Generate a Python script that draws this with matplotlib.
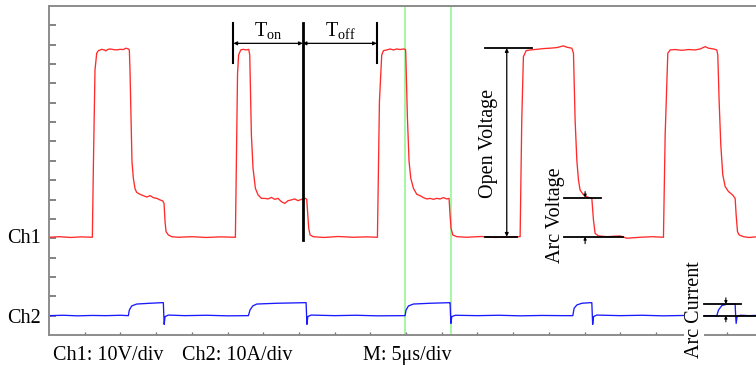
import matplotlib
matplotlib.use("Agg")
import matplotlib.pyplot as plt
import numpy as np

plt.rcParams['font.family'] = ['Liberation Serif', 'DejaVu Serif']
plt.rcParams['mathtext.fontset'] = 'custom'
plt.rcParams['mathtext.rm'] = 'Liberation Serif'
plt.rcParams['mathtext.it'] = 'Liberation Serif:italic'

# ---- data (time in microseconds, Ch1 in volts, Ch2 in amps) ----
ch1_t = [0, 1.5, 3.0, 4.5, 6.07,
         6.21, 6.44, 6.68, 6.91, 7.38, 7.75, 7.94, 8.22, 8.54, 9.01, 9.48, 9.94, 10.41, 10.78, 11.11, 11.25,
         11.34, 11.48, 11.62, 11.81, 12.05, 12.28, 12.75, 13.21, 13.68, 14.15, 14.61, 15.08, 15.55, 15.92, 16.11,
         16.25, 16.39, 16.71, 17.18, 18.11, 20.0, 22.0, 24.0,
         26.10, 26.24, 26.40, 26.55, 26.85, 27.17, 27.64, 27.97, 28.11, 28.34, 28.57, 28.90, 29.27, 29.74,
         30.21, 30.67, 31.14, 31.61, 32.07, 32.54, 33.01, 33.47, 33.94, 34.41, 34.87, 35.34, 35.90, 36.09,
         36.18, 36.37, 36.56, 36.98, 38.5, 40.5, 42.5, 44.5,
         45.99, 46.27, 46.59, 46.83, 47.29, 47.76, 48.23, 48.69, 49.16, 49.63, 49.91, 49.95, 50.19, 50.42,
         50.66, 51.03, 51.50, 51.96, 52.43, 52.90, 53.36, 53.83, 54.30, 54.76, 55.23, 55.70, 56.02, 56.16,
         56.30, 56.54, 57.10, 58.5, 60.5, 62.5, 64.5,
         65.97, 66.20, 66.43, 66.81, 67.37, 68.30, 69.24, 70.17, 71.10, 72.04, 72.50, 73.21, 73.44, 73.67,
         73.91, 74.14, 74.37, 74.84, 75.54, 76.01, 76.24, 76.47, 76.94, 78.11, 79.97, 80.91, 82.78, 84.5,
         86.04, 86.28, 86.65, 86.98, 87.68, 88.61, 89.54, 90.48, 91.18, 91.88, 92.35, 93.05, 93.51, 93.65,
         93.84, 94.07, 94.35, 94.68, 95.15, 95.71, 96.08, 96.22, 96.41, 96.64, 97.25, 98.0, 99.0]
ch1_v = [0.5, 0.8, 0.4, 0.7, 0.5,
         36.1, 86.9, 95.6, 96.9, 97.6, 97.3, 96.8, 97.5, 97.8, 97.5, 97.3, 97.6, 97.5, 98.2, 97.8, 97.3,
         86.9, 62.0, 39.6, 31.0, 25.5, 23.7, 22.7, 22.0, 21.3, 22.0, 21.0, 20.6, 19.8, 19.3, 18.0,
         8.6, 3.4, 1.7, 0.8, 0.5, 0.8, 0.4, 0.7,
         0.5, 40.0, 85.0, 94.7, 97.3, 97.6, 97.3, 97.6, 94.7, 53.4, 36.1, 25.8, 22.4, 20.6,
         20.6, 20.3, 21.1, 20.1, 20.6, 18.9, 18.0, 19.4, 19.8, 20.3, 19.4, 20.1, 20.6, 20.1,
         15.5, 5.1, 1.7, 0.8, 0.4, 0.9, 0.5, 0.7,
         0.5, 70.6, 94.7, 96.9, 97.3, 97.8, 97.3, 97.8, 97.5, 97.8, 97.6, 96.4, 62.0, 39.6,
         31.0, 25.8, 22.7, 22.0, 21.0, 20.3, 20.6, 20.1, 20.6, 20.3, 21.0, 20.3, 20.6, 12.0,
         5.1, 1.7, 0.8, 0.5, 0.9, 0.4, 0.7,
         0.8, 61.1, 93.8, 96.9, 97.3, 97.6, 98.0, 98.2, 98.5, 99.4, 98.7, 98.2, 95.6, 61.1,
         40.4, 30.1, 24.9, 22.4, 21.1, 20.6, 9.4, 2.5, 1.2, 0.8, 1.2, 0.0, 0.5, 0.8,
         0.5, 53.4, 95.6, 97.3, 97.5, 97.1, 97.5, 97.3, 97.8, 99.0, 98.2, 97.8, 97.3, 94.7,
         70.6, 48.2, 32.7, 26.7, 24.1, 22.4, 20.6, 12.0, 3.4, 1.7, 0.8, 0.4, 0.7]

ch2_t = [0, 2, 4, 6, 8, 10,
         11.11, 11.25, 11.58, 12.28, 14.15, 15.78, 16.01, 16.08, 16.13, 16.25, 16.71, 19, 22, 25,
         27.92, 28.15, 28.53, 29.09, 31.89, 35.86, 36.00, 36.07, 36.12, 36.24, 36.70, 40, 43, 46,
         49.86, 50.00, 50.33, 51.03, 53.36, 56.07, 56.16, 56.23, 56.28, 56.40, 56.90, 60, 63, 66, 69, 72,
         73.35, 73.53, 73.91, 74.61, 75.77, 76.01, 76.08, 76.13, 76.25, 76.70, 80, 83, 86, 89, 92,
         93.51, 93.75, 94.21, 94.91, 96.08, 96.15, 96.22, 96.35, 96.80, 98, 99]
ch2_i = [0.0, 0.2, -0.1, 0.1, 0.0, 0.2,
         0.0, 2.9, 5.0, 6.0, 6.4, 6.7, 6.7, 0.0, -4.5, -0.5, 0.3, 0.0, 0.2, -0.1,
         0.0, 2.9, 5.0, 6.0, 6.4, 6.7, 6.7, 0.0, -4.5, -0.5, 0.3, 0.0, 0.2, -0.1,
         0.0, 2.9, 5.0, 6.0, 6.4, 6.7, 6.7, 0.0, -4.0, -0.5, 0.2, 0.0, 0.2, -0.1, 0.1, 0.0,
         0.0, 3.8, 5.5, 6.4, 6.7, 6.7, 0.0, -4.5, -0.5, 0.3, 0.0, 0.2, -0.1, 0.1, 0.0,
         0.0, 2.9, 5.2, 5.9, 6.0, 0.0, -4.0, -0.5, 0.2, 0.0, 0.1]

ch1_offset_div = 5      # Ch1 ground marker position (div)
ch2_offset_div = 1      # Ch2 ground marker position (div)
ch1_scale = 10          # V/div
ch2_scale = 10          # A/div
cursor_t = [49.86, 56.30]   # green cursors (us)

# ---- figure ----
fig = plt.figure(figsize=(7.56, 3.67), dpi=100)
ax = fig.add_axes([49/756, 1-335/367, 1-49/756, (335-6)/367])
ax.set_xlim(0, 99.0)
ax.set_ylim(0, 17.0)

gray = '#8c8c8c'
for s in ['left', 'top', 'bottom']:
    ax.spines[s].set_color(gray)
    ax.spines[s].set_linewidth(1.4)
ax.spines['right'].set_visible(False)

ax.set_yticks(np.arange(1, 17))
ax.set_xticks(np.arange(5, 99, 5))
ax.tick_params(axis='y', direction='in', length=5.2, width=1.2, color='#6e6e6e', labelleft=False)
ax.tick_params(axis='x', direction='in', length=2.3, width=0.9, color='#6e6e6e', labelbottom=False)

for ct in cursor_t:
    ax.axvline(ct, color='#8cf58c', lw=1.1, zorder=1)

y1 = np.array(ch1_v) / ch1_scale + ch1_offset_div
y2 = np.array(ch2_i) / ch2_scale + ch2_offset_div
ax.plot(ch1_t, y1, color='#ff2a2a', lw=0.95, zorder=2)
ax.plot(ch2_t, y2, color='#1a1aff', lw=0.95, zorder=2)

fs = 14.5
k = dict(color='black', zorder=5, clip_on=False)

# T_on / T_off
ax.plot([25.82, 25.82], [14.04, 16.11], lw=1.5, **k)
ax.plot([45.90, 45.90], [14.04, 16.11], lw=1.5, **k)
ax.plot([35.53, 35.53], [4.91, 16.11], lw=2.0, **k)
arr2 = dict(arrowstyle='<|-|>', lw=0.9, color='black', shrinkA=0, shrinkB=0, mutation_scale=5)
ax.annotate('', xy=(25.82, 15.07), xytext=(35.53, 15.07), arrowprops=arr2, zorder=5)
ax.annotate('', xy=(35.53, 15.07), xytext=(45.90, 15.07), arrowprops=arr2, zorder=5)
ax.text(30.67, 15.45, r'$\mathrm{T}_{\mathrm{on}}$', ha='center', va='baseline', fontsize=fs)
ax.text(40.76, 15.45, r'$\mathrm{T}_{\mathrm{off}}$', ha='center', va='baseline', fontsize=fs)

# Open Voltage
ax.plot([61.07, 67.61], [14.82, 14.82], lw=1.3, **k)
ax.plot([61.07, 65.50], [5.08, 5.08], lw=1.3, **k)
ax.annotate('', xy=(64.10, 14.82), xytext=(64.10, 5.08), arrowprops=arr2, zorder=5)
ax.text(61.53, 9.91, 'Open Voltage', rotation=90, ha='center', va='center', fontsize=fs)

# Arc Voltage
arr1 = dict(arrowstyle='-|>', lw=0.8, color='black', shrinkA=0, shrinkB=0, mutation_scale=4)
ax.plot([72.18, 77.31], [7.10, 7.10], lw=1.3, **k)
ax.plot([72.18, 80.35], [5.08, 5.08], lw=1.3, **k)
ax.annotate('', xy=(75.07, 7.10), xytext=(75.07, 7.41), arrowprops=arr1, zorder=5)
ax.annotate('', xy=(75.07, 5.08), xytext=(75.07, 4.72), arrowprops=arr1, zorder=5)
ax.text(70.87, 6.20, 'Arc Voltage', rotation=90, ha='center', va='center', fontsize=fs)

# Arc Current
ax.text(90.34, 1.29, 'Arc Current', rotation=90, ha='center', va='center', fontsize=fs,
        zorder=4, bbox=dict(facecolor='white', edgecolor='none', pad=0.3))
ax.plot([91.78, 96.92], [1.60, 1.60], lw=1.3, **k)
ax.plot([91.78, 99.5], [1.00, 1.00], lw=1.3, **k)
ax.annotate('', xy=(94.78, 1.60), xytext=(94.78, 1.92), arrowprops=arr1, zorder=5)
ax.annotate('', xy=(94.78, 1.00), xytext=(94.78, 0.68), arrowprops=arr1, zorder=5)

# channel labels and settings
fig.text(7/756, 1-243/367, 'Ch1', fontsize=fs, ha='left', va='baseline')
fig.text(7/756, 1-322.7/367, 'Ch2', fontsize=fs, ha='left', va='baseline')
fig.text(53/756, 1-360/367, 'Ch1: 10V/div', fontsize=fs, ha='left', va='baseline')
fig.text(182/756, 1-360/367, 'Ch2: 10A/div', fontsize=fs, ha='left', va='baseline')
fig.text(363/756, 1-360/367, 'M: 5\u03bcs/div', fontsize=fs, ha='left', va='baseline')

fig.savefig('out.png', dpi=100)
